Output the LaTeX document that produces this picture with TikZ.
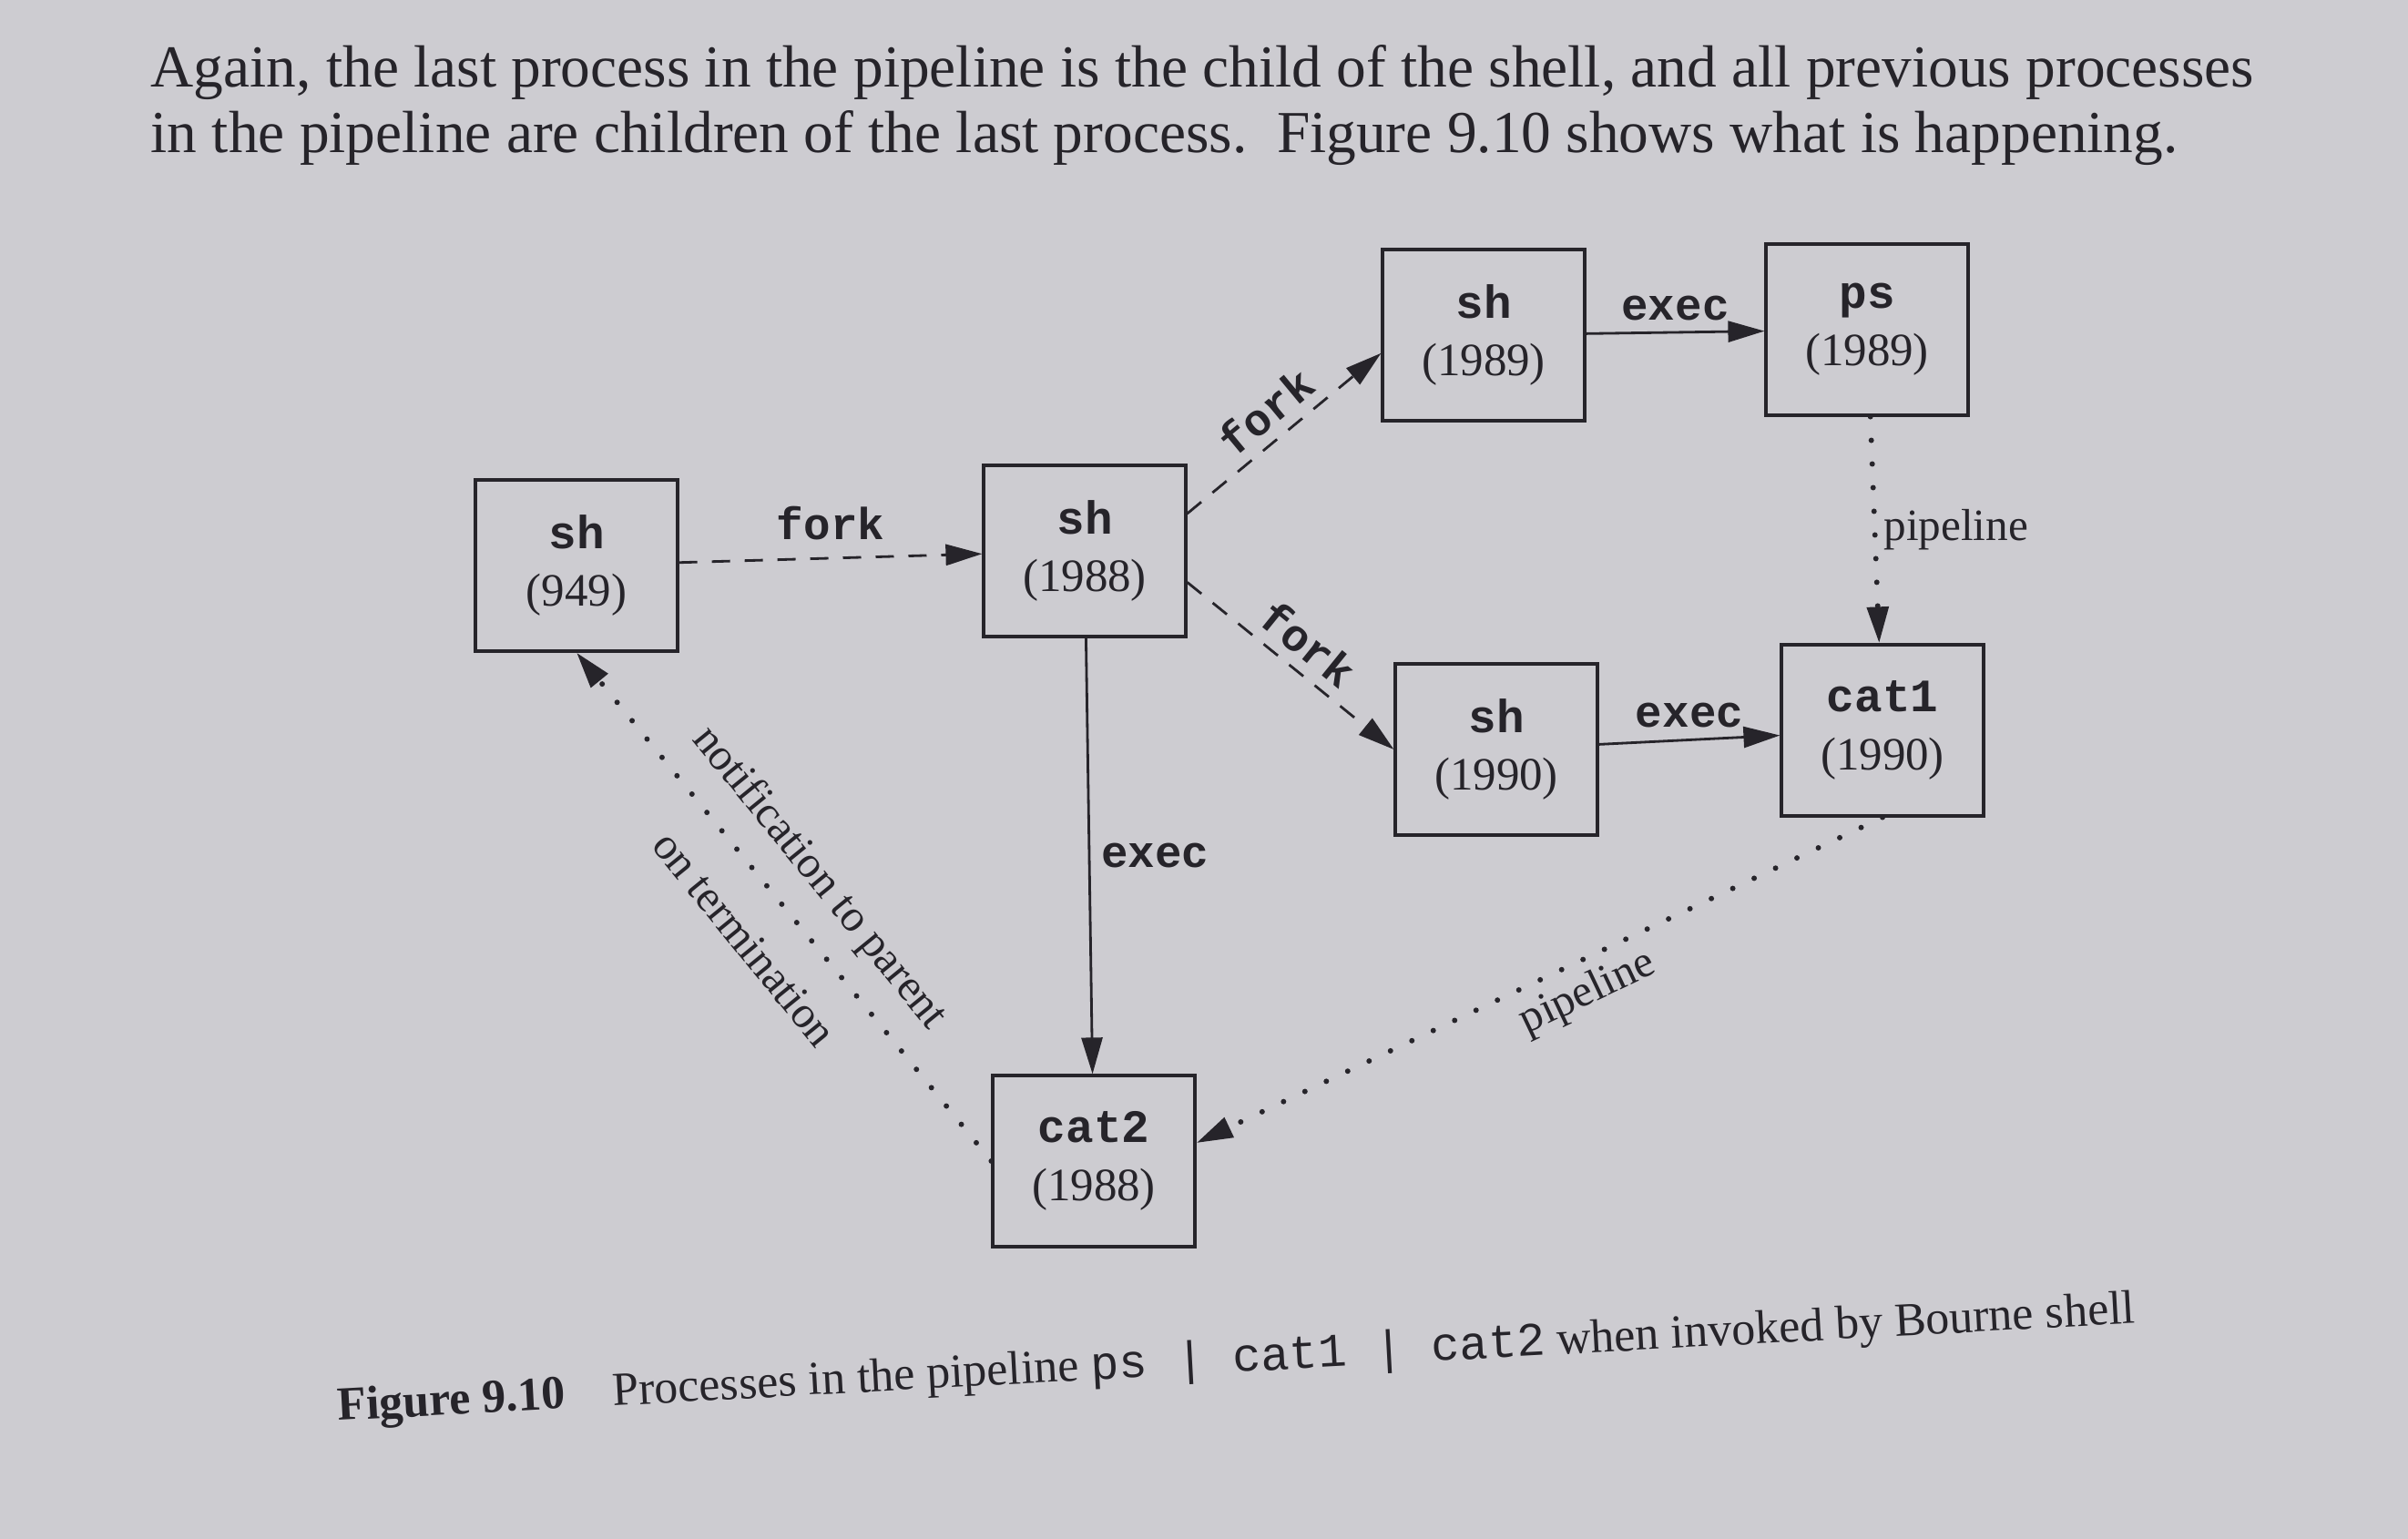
\documentclass[tikz,border=0pt]{standalone}
\usepackage{fontspec}
\setmainfont{Liberation Serif}
\setmonofont{Liberation Mono}
\usetikzlibrary{arrows.meta}
\definecolor{paper}{RGB}{205,204,209}
\definecolor{ink}{RGB}{38,36,42}
\tikzset{
	proc/.style={draw=ink,line width=0.9pt,rectangle,align=center,minimum width=2.22cm,minimum height=1.88cm,font=\fontsize{14.5}{18}\selectfont,text=ink},
	lbl/.style={font=\fontsize{14}{16}\selectfont\ttfamily\bfseries,text=ink},
	note/.style={font=\fontsize{14}{16}\selectfont,text=ink},
	page/.style={anchor=base west,inner sep=0,text=ink,font=\fontsize{18.6}{22}\selectfont},
	forkline/.style={->,draw=ink,line width=0.8pt,dash pattern=on 2mm off 1.6mm},
	execline/.style={->,draw=ink,line width=0.8pt},
	pipe/.style={->,draw=ink,line width=1.7pt,dash pattern=on 0pt off 2.6mm,line cap=round},
	>={Triangle[length=4mm,width=2.3mm]}
}
\newcommand{\pname}[1]{{\ttfamily\bfseries #1}}

\begin{document}
\begin{tikzpicture}
	\fill[paper] (0,0) rectangle (26.44,16.90);
	\useasboundingbox (0,0) rectangle (26.44,16.90);
	% text of the page
	\node[page] (line1) at (1.65,15.94)
		{Again, the last process in the pipeline is the child of the shell, and all previous processes};
	\node[page] (line2) at (1.65,15.22)
		{in the pipeline are children of the last process.\ \ Figure 9.10 shows what is happening.};
	% processes
	\node[proc] (sh949) at (6.33,10.69) {\pname{sh}\\(949)};
	\node[proc] (sh1988) at (11.91,10.85) {\pname{sh}\\(1988)};
	\node[proc] (sh1989) at (16.29,13.22) {\pname{sh}\\(1989)};
	\node[proc] (ps1989) at (20.50,13.28) {\pname{ps}\\(1989)};
	\node[proc] (sh1990) at (16.43,8.67) {\pname{sh}\\(1990)};
	\node[proc] (cat1) at (20.67,8.88) {\pname{cat1}\\(1990)};
	\node[proc] (cat2) at (12.01,4.15) {\pname{cat2}\\(1988)};
	% fork and exec
	\draw[forkline] (sh949) -- node[lbl,above=2pt] {fork} (sh1988);
	\draw[forkline] (sh1988.20) -- node[lbl,above,sloped] {fork} (sh1989.190);
	\draw[forkline] (sh1988.-17) -- node[lbl,above,sloped] {fork} (sh1990.west);
	\draw[execline] (sh1989) -- node[lbl,above] {exec} (ps1989);
	\draw[execline] (sh1990) -- node[lbl,above] {exec} (cat1);
	\draw[execline] (sh1988) -- node[lbl,right] {exec} (cat2);
	% pipelines
	\draw[pipe] (ps1989) -- node[note,right,inner sep=2pt] {pipeline} (cat1);
	\draw[pipe] (cat1.south) -- node[note,below,sloped,pos=0.45,inner sep=3pt] {pipeline} (cat2.10);
	\draw[pipe] (cat2.west) -- node[note,sloped,align=center] {notification to parent\\[15pt]on termination} (sh949.south);
	% caption
	\node[page,rotate=3.1,font=\fontsize{14.8}{18}\selectfont] (caption) at (3.71,1.30)
		{\textbf{Figure 9.10}\quad Processes in the pipeline \texttt{ps | cat1 | cat2} when invoked by Bourne shell};
\end{tikzpicture}
\end{document}
